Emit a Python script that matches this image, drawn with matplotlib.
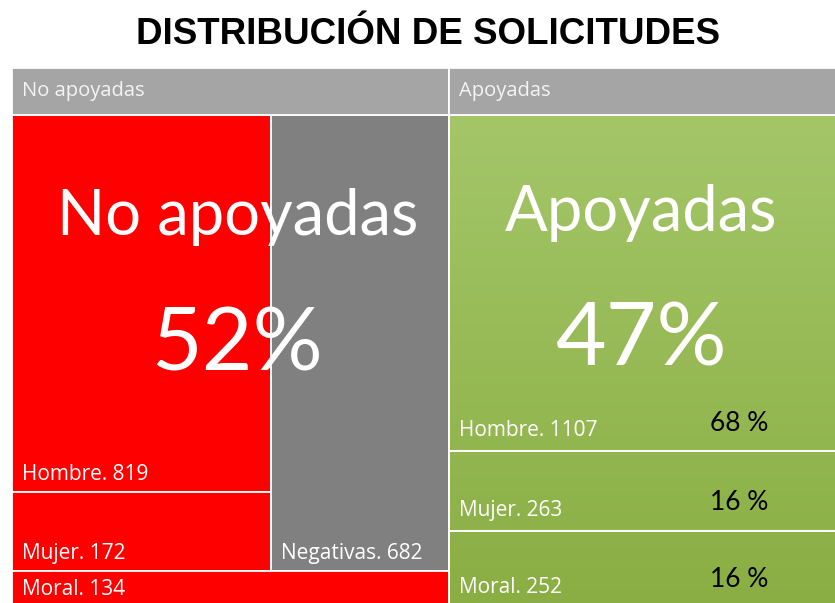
import numpy as np
import matplotlib
matplotlib.use("Agg")
import matplotlib.pyplot as plt
from matplotlib.patches import Rectangle
from matplotlib.colors import LinearSegmentedColormap

plt.rcParams['font.family'] = ['Lato', 'DejaVu Sans']

# data
TITLE = "DISTRIBUCIÓN DE SOLICITUDES"
groups = ["No apoyadas", "Apoyadas"]
no_apoyadas_names = ["Hombre", "Mujer", "Negativas", "Moral"]
no_apoyadas_values = [819, 172, 682, 134]
apoyadas_names = ["Hombre", "Mujer", "Moral"]
apoyadas_values = [1107, 263, 252]

RED = '#ff0000'
GREY = '#808080'
HEADER = '#a5a5a5'
EDGE = 'white'
SMALL = ['Open Sans', 'DejaVu Sans']

total_no = sum(no_apoyadas_values)
total_si = sum(apoyadas_values)
total = total_no + total_si

fig = plt.figure(figsize=(8.35, 6.03), dpi=100)
ax = fig.add_axes([12 / 835, 0, 823 / 835, 536 / 603])
ax.set_xlim(0, 3403)
ax.set_ylim(0.99, -0.097)
ax.axis('off')

# --- No apoyadas: moral strip at bottom, then two columns
hombre, mujer, negativas, moral = no_apoyadas_values
h_moral = moral / total_no
h_rest = 1 - h_moral
w_left = (hombre + mujer) / h_rest
w_neg = negativas / h_rest
left_rects = [
    (0, 0, w_left, hombre / w_left, RED),
    (0, hombre / w_left, w_left, mujer / w_left, RED),
    (w_left, 0, w_neg, h_rest, GREY),
    (0, h_rest, total_no, h_moral, RED),
]
for (x, y, w, h, c), name, v in zip(left_rects, no_apoyadas_names, no_apoyadas_values):
    ax.add_patch(Rectangle((x, y), w, h, facecolor=c, edgecolor=EDGE, lw=1.3))
    ax.annotate(f"{name}. {v}", (x, y + h), xytext=(7, 9), textcoords='offset points',
                color='white', fontsize=15, family=SMALL, annotation_clip=False,
                va='baseline', ha='left')

# --- Apoyadas: stacked rows with green gradient
x0 = total_no
grad = np.linspace(0, 1, 256).reshape(-1, 1)
cmap = LinearSegmentedColormap.from_list('g', ['#a4c669', '#8aae43'])
ax.imshow(grad, cmap=cmap, aspect='auto', extent=[x0, x0 + total_si, 1, 0], zorder=0.5)
y = 0
for name, v in zip(apoyadas_names, apoyadas_values):
    h = v / total_si
    ax.add_patch(Rectangle((x0, y), total_si, h, facecolor='none', edgecolor=EDGE, lw=1.3, zorder=1))
    ax.annotate(f"{name}. {v}", (x0, y + h), xytext=(7, 11), textcoords='offset points',
                color='white', fontsize=15, family=SMALL, annotation_clip=False,
                va='baseline', ha='left', zorder=3)
    ax.annotate(f"{round(v / total_si * 100)} %", (x0 + 0.74 * total_si, y + h),
                xytext=(0, 15), textcoords='offset points', annotation_clip=False,
                color='black', fontsize=19, va='baseline', ha='center', zorder=3)
    y += h

# --- headers and big labels
group_x = [(0, total_no), (total_no, total_si)]
big_x = [0.516, 0.49]
name_y = [0.243, 0.236]
pct_y = [0.518, 0.508]
for i, ((gx, gw), g) in enumerate(zip(group_x, groups)):
    ax.add_patch(Rectangle((gx, -0.0951), gw, 0.0951, facecolor=HEADER, edgecolor=EDGE, lw=1.3))
    ax.annotate(g, (gx, -0.0475), xytext=(7, 0), textcoords='offset points',
                color='#f4f4f4', fontsize=14.5, family=SMALL,
                va='center', ha='left')
    pct = int((total_no if i == 0 else total_si) / total * 100)
    ax.text(gx + big_x[i] * gw, name_y[i], g, color='white', fontsize=45.5,
            ha='center', va='baseline', zorder=4)
    ax.text(gx + big_x[i] * gw, pct_y[i], f"{pct}%", color='white', fontsize=63,
            ha='center', va='baseline', zorder=4)

fig.text(427.5 / 835, 1 - 35 / 603, TITLE, ha='center', va='center',
         fontsize=26.5, fontweight='bold', family=['Liberation Sans', 'DejaVu Sans'])

fig.savefig('out.png', dpi=100)
